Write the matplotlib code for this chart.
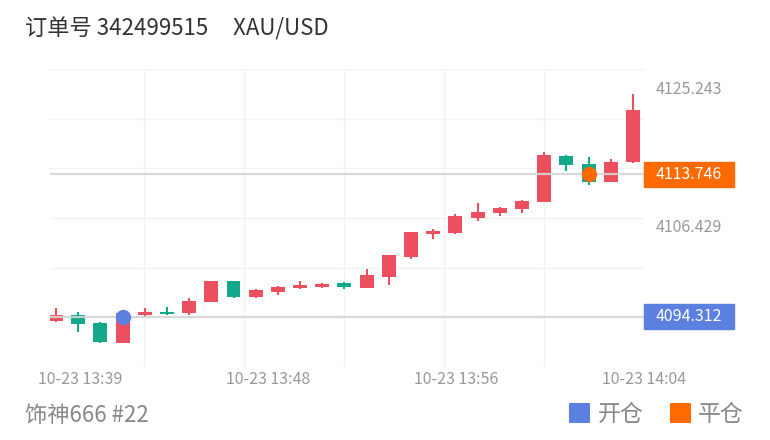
"""Candlestick snapshot for one XAU/USD order, open/close marks on the right axis."""

import matplotlib

matplotlib.use("Agg")
import matplotlib.pyplot as plt
import numpy as np
from matplotlib.patches import Rectangle

plt.rcParams["font.family"] = ["Noto Sans CJK SC", "DejaVu Sans"]

# ---- data ----
opens = [4093.75, 4094.57, 4093.48, 4090.75, 4094.57, 4094.98, 4094.84, 4096.34, 4099.20,
         4097.02, 4097.70, 4098.25, 4098.39, 4098.93, 4098.25, 4099.75, 4102.48, 4105.61,
         4105.75, 4107.79, 4108.47, 4109.02, 4109.97, 4116.25, 4115.16, 4112.70, 4115.43]
closes = [4094.57, 4093.34, 4090.89, 4094.84, 4094.98, 4094.71, 4096.48, 4099.20, 4097.02,
          4097.98, 4098.39, 4098.66, 4098.80, 4098.39, 4100.02, 4102.75, 4105.88, 4106.02,
          4108.07, 4108.61, 4109.16, 4110.11, 4116.38, 4115.02, 4112.70, 4115.43, 4122.52]
highs = [4095.52, 4094.98, 4093.61, 4094.98, 4095.52, 4095.66, 4096.89, 4099.20, 4099.20,
         4098.11, 4098.52, 4099.20, 4098.93, 4099.07, 4100.84, 4102.75, 4105.88, 4106.29,
         4108.34, 4109.84, 4109.29, 4110.25, 4116.79, 4116.38, 4116.11, 4115.84, 4124.75]
lows = [4093.61, 4092.25, 4090.80, 4090.75, 4094.30, 4094.57, 4094.57, 4096.34, 4096.89,
        4096.89, 4097.30, 4098.11, 4098.25, 4098.11, 4098.25, 4098.66, 4102.20, 4104.93,
        4105.61, 4107.38, 4108.07, 4108.47, 4109.97, 4114.20, 4112.29, 4112.70, 4115.29]

xtick_labels = ["10-23 13:39", "10-23 13:48", "10-23 13:56", "10-23 14:04"]
axis_labels = [4125.243, 4106.429]

open_price = 4094.312
open_index = 3
close_price = 4113.746
close_index = 24

title = "订单号 342499515     XAU/USD"
footer = "饰神666 #22"
legend_names = ["开仓", "平仓"]

# ---- style ----
UP = "#ec4f5e"
DOWN = "#12a88a"
BLUE = "#5b80e0"
ORANGE = "#ff6a00"
GRID = "#f2f2f2"
AXIS_TEXT = "#999999"

W, H = 770, 440
fig = plt.figure(figsize=(W / 100, H / 100), dpi=100)
ax = fig.add_axes([50 / W, 73 / H, 594 / W, 298 / H])

ymin, ymax = 4087.48, 4128.10
ax.set_ylim(ymin, ymax)
ax.set_xlim(-0.27, 26.5)

# grid
for yv in np.linspace(ymin, ymax, 7):
    ax.axhline(yv, color=GRID, lw=1, zorder=0)
for xv in np.arange(26.5, 0, -4.505):
    ax.axvline(xv, color=GRID, lw=1, zorder=0)

# candles
x = np.arange(len(opens))
o = np.array(opens)
c = np.array(closes)
colors = [UP if cc >= oo else DOWN for oo, cc in zip(o, c)]
ax.vlines(x, lows, highs, colors=colors, lw=1.5, zorder=2)
ax.bar(x, np.maximum(np.abs(c - o), 0.15), bottom=np.minimum(o, c), width=0.63,
       color=colors, zorder=3)

# mark lines drawn over candles
for price in (open_price, close_price):
    ax.axhline(price, color="#d6d6d6", lw=1.6, alpha=0.9, zorder=4)

ax.plot(open_index, open_price, "o", ms=11, color=BLUE, mec="none", zorder=5)
ax.plot(close_index, close_price, "o", ms=11, color=ORANGE, mec="none", zorder=5)

for sp in ax.spines.values():
    sp.set_visible(False)
ax.set_yticks([])
ax.set_xticks(np.linspace(1.1, 26.5, 4))
ax.set_xticklabels(xtick_labels, color=AXIS_TEXT, fontsize=11.5)
ax.tick_params(axis="x", length=0, pad=3)

# right axis labels
ytr = ax.get_yaxis_transform()
for val in axis_labels:
    ax.text(1.0202, val, f"{val:.3f}", transform=ytr, va="center", ha="left",
            color=AXIS_TEXT, fontsize=11.5)
box_h = 25 / (298 / (ymax - ymin))
for val, col in ((close_price, ORANGE), (open_price, BLUE)):
    ax.add_patch(Rectangle((1.0, val - box_h / 2), 90 / 594, box_h, transform=ytr,
                           color=col, clip_on=False, zorder=6))
    ax.text(1.0202, val, f"{val:.3f}", transform=ytr, va="center", ha="left",
            color="white", fontsize=11.5, zorder=7)

# header / footer
fig.text(25 / W, 1 - 29 / H, title, fontsize=16, color="#333333", va="center", ha="left")
fig.text(25 / W, 1 - 415 / H, footer, fontsize=16, color="#888888", va="center", ha="left")

px = fig.dpi_scale_trans
for (sx, tx), col, name in zip(((570, 598), (671, 698)), (BLUE, ORANGE), legend_names):
    fig.add_artist(Rectangle((sx / 100, (H - 422) / 100), 19 / 100, 18 / 100,
                             transform=px, facecolor=col, edgecolor=col, lw=1.5,
                             joinstyle="round"))
    fig.text(tx / W, 1 - 414 / H, name, fontsize=16.5, color="#888888", va="center", ha="left")

fig.savefig("out.png", dpi=100)
plt.close(fig)
